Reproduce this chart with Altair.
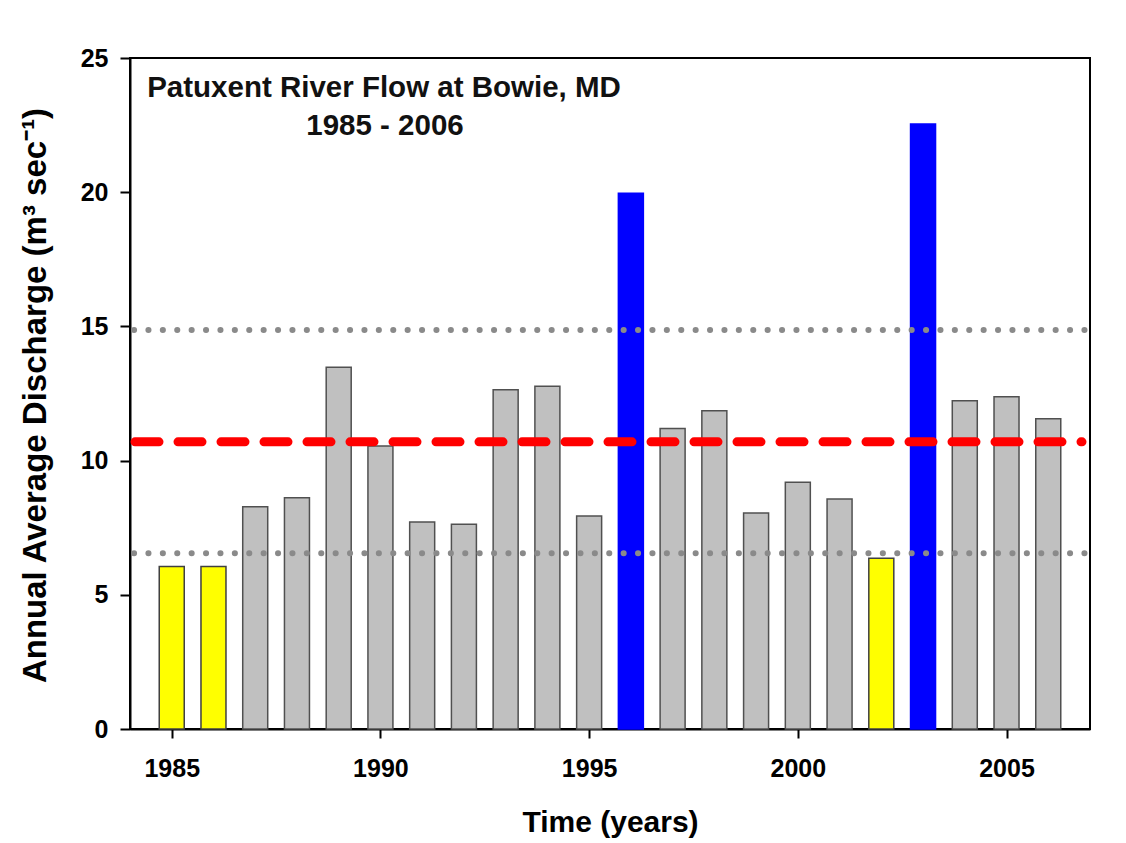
import altair as alt
import pandas as pd

# ---- data ----
years = list(range(1985, 2007))
discharge = [6.05, 6.05, 8.28, 8.62, 13.48, 10.54, 7.71, 7.63, 12.64, 12.77, 7.94,
             19.96, 11.20, 11.86, 8.05, 9.19, 8.57, 6.36, 22.54, 12.23, 12.38, 11.56]
dry_years = [1985, 1986, 2002]
wet_years = [1996, 2003]
mean_flow = [10.70]
band_limits = [14.87, 6.55]

x_ticks = [1985, 1990, 1995, 2000, 2005]
y_ticks = [0, 5, 10, 15, 20, 25]
title_lines = ["Patuxent River Flow at Bowie, MD", "1985 - 2006"]

cat = ["dry" if y in dry_years else ("wet" if y in wet_years else "normal") for y in years]
bars_df = pd.DataFrame({"year": years, "q": discharge, "cat": cat})
mean_df = pd.DataFrame({"v": mean_flow})
band_df = pd.DataFrame({"v": band_limits})

FONT = "Liberation Sans"

x_enc = alt.X(
    "year:Q",
    scale=alt.Scale(domain=[1984, 2007], nice=False, zero=False, padding=0),
    axis=alt.Axis(
        values=x_ticks, format="d", title="Time (years)",
        labelFont=FONT, labelFontWeight="bold", labelFontSize=25, labelColor="black",
        labelPadding=18, tickSize=9, tickWidth=2, tickColor="black",
        domainColor="black", domainWidth=2, grid=False,
        titleFont=FONT, titleFontSize=30, titleFontWeight="bold", titleColor="black",
        titleX=480, titleY=102, titleAlign="center", titleBaseline="alphabetic",
    ),
)
y_enc = alt.Y(
    "q:Q",
    scale=alt.Scale(domain=[0, 25], nice=False, padding=0),
    axis=alt.Axis(
        values=y_ticks, title="Annual Average Discharge (m³ sec⁻¹)",
        labelFont=FONT, labelFontWeight="bold", labelFontSize=25, labelColor="black",
        labelPadding=12, tickSize=10, tickWidth=2, tickColor="black",
        domainColor="black", domainWidth=2, grid=False,
        titleFont=FONT, titleFontSize=33, titleFontWeight="bold", titleColor="black",
        titleX=-85, titleY=337, titleAlign="center", titleBaseline="alphabetic",
    ),
)

color_scale = alt.Scale(domain=["normal", "dry", "wet"], range=["#c0c0c0", "#ffff00", "#0000ff"])
stroke_scale = alt.Scale(domain=["normal", "dry", "wet"], range=["#505050", "#404040", "#0000ff"])

bars = alt.Chart(bars_df).mark_bar(size=25, strokeWidth=1.5).encode(
    x=x_enc,
    y=y_enc,
    color=alt.Color("cat:N", scale=color_scale, legend=None),
    stroke=alt.Stroke("cat:N", scale=stroke_scale, legend=None),
)

dots = alt.Chart(band_df).mark_rule(
    color="#8a8a8a", strokeWidth=6, strokeDash=[0.1, 14.3], strokeCap="round"
).encode(y=alt.Y("v:Q"), x=alt.value(4), x2=alt.value(956))

mean_line = alt.Chart(mean_df).mark_rule(
    color="#ff0000", strokeWidth=9, strokeDash=[24, 19], strokeCap="round"
).encode(y=alt.Y("v:Q"), x=alt.value(5), x2=alt.value(952))

t1 = alt.Chart(pd.DataFrame({"t": [title_lines[0]]})).mark_text(
    font=FONT, fontSize=29.5, fontWeight="bold", color="#111111", align="center", baseline="alphabetic"
).encode(text="t:N", x=alt.value(254), y=alt.value(39))
t2 = alt.Chart(pd.DataFrame({"t": [title_lines[1]]})).mark_text(
    font=FONT, fontSize=29.5, fontWeight="bold", color="#111111", align="center", baseline="alphabetic"
).encode(text="t:N", x=alt.value(255), y=alt.value(77))

chart = alt.layer(bars, dots, mean_line, t1, t2).properties(
    width=960, height=671,
    autosize=alt.AutoSizeParams(type="none"),
    padding={"left": 122, "top": 50, "right": 20, "bottom": 112},
    background="white",
).configure_view(stroke="black", strokeWidth=2)

chart.save("out.html", embed_options={"renderer": "svg", "actions": False})
